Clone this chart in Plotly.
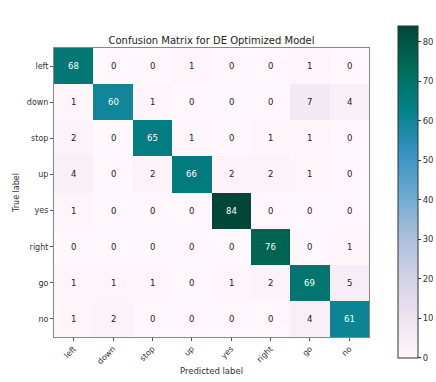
import numpy as np
import plotly.graph_objects as go

labels = ["left", "down", "stop", "up", "yes", "right", "go", "no"]

# rows = true label, cols = predicted label
row_left = [68, 0, 0, 1, 0, 0, 1, 0]
row_down = [1, 60, 1, 0, 0, 0, 7, 4]
row_stop = [2, 0, 65, 1, 0, 1, 1, 0]
row_up = [4, 0, 2, 66, 2, 2, 1, 0]
row_yes = [1, 0, 0, 0, 84, 0, 0, 0]
row_right = [0, 0, 0, 0, 0, 76, 0, 1]
row_go = [1, 1, 1, 0, 1, 2, 69, 5]
row_no = [1, 2, 0, 0, 0, 0, 4, 61]

cm = np.array([row_left, row_down, row_stop, row_up, row_yes, row_right, row_go, row_no])
thresh = cm.max() / 2.0

font = "DejaVu Sans"

fig = go.Figure(go.Heatmap(
    z=cm,
    x=labels,
    y=labels,
    colorscale="PuBuGn",
    zmin=0,
    zmax=cm.max(),
    colorbar=dict(
        x=1.06, xanchor="left", thickness=20,
        len=1.218, lenmode="fraction", y=0.502, yanchor="middle",
        outlinewidth=1, outlinecolor="#333333",
        tickvals=[0, 10, 20, 30, 40, 50, 60, 70, 80],
        ticks="outside", ticklen=3, tickcolor="#333333",
        tickfont=dict(family=font, size=8.5, color="#333333"),
    ),
    hoverinfo="skip",
))

anns = []
for i in range(len(labels)):
    for j in range(len(labels)):
        v = cm[i, j]
        anns.append(dict(
            x=labels[j], y=labels[i], text=str(v), showarrow=False,
            font=dict(family=font, size=8.5, color="white" if v > thresh else "#222222"),
        ))

fig.update_layout(
    width=436, height=382,
    margin=dict(l=54, r=67, t=48, b=45, autoexpand=False),
    paper_bgcolor="white", plot_bgcolor="white",
    title=dict(text="Confusion Matrix for DE Optimized Model", x=0.5, xref="paper",
               xanchor="center", y=1, yref="paper", yanchor="bottom", pad=dict(b=4),
               font=dict(family=font, size=10, color="#222222")),
    annotations=anns,
    xaxis=dict(
        title=dict(text="Predicted label", font=dict(family=font, size=8.5, color="#333333"), standoff=2),
        tickangle=-45, ticks="outside", ticklen=3, tickcolor="#555555",
        tickfont=dict(family=font, size=8, color="#333333"),
        showline=True, linecolor="#888888", mirror=True, showgrid=False, zeroline=False,
    ),
    yaxis=dict(
        title=dict(text="True label", font=dict(family=font, size=8, color="#333333"), standoff=6),
        autorange="reversed", ticks="outside", ticklen=3, tickcolor="#555555",
        tickfont=dict(family=font, size=8, color="#333333"),
        showline=True, linecolor="#888888", mirror=True, showgrid=False, zeroline=False,
    ),
)

# browser default body margin would shift the figure by 8px
fig.write_html("out.html", config={"displayModeBar": False},
               post_script="document.body.style.margin='0';")
